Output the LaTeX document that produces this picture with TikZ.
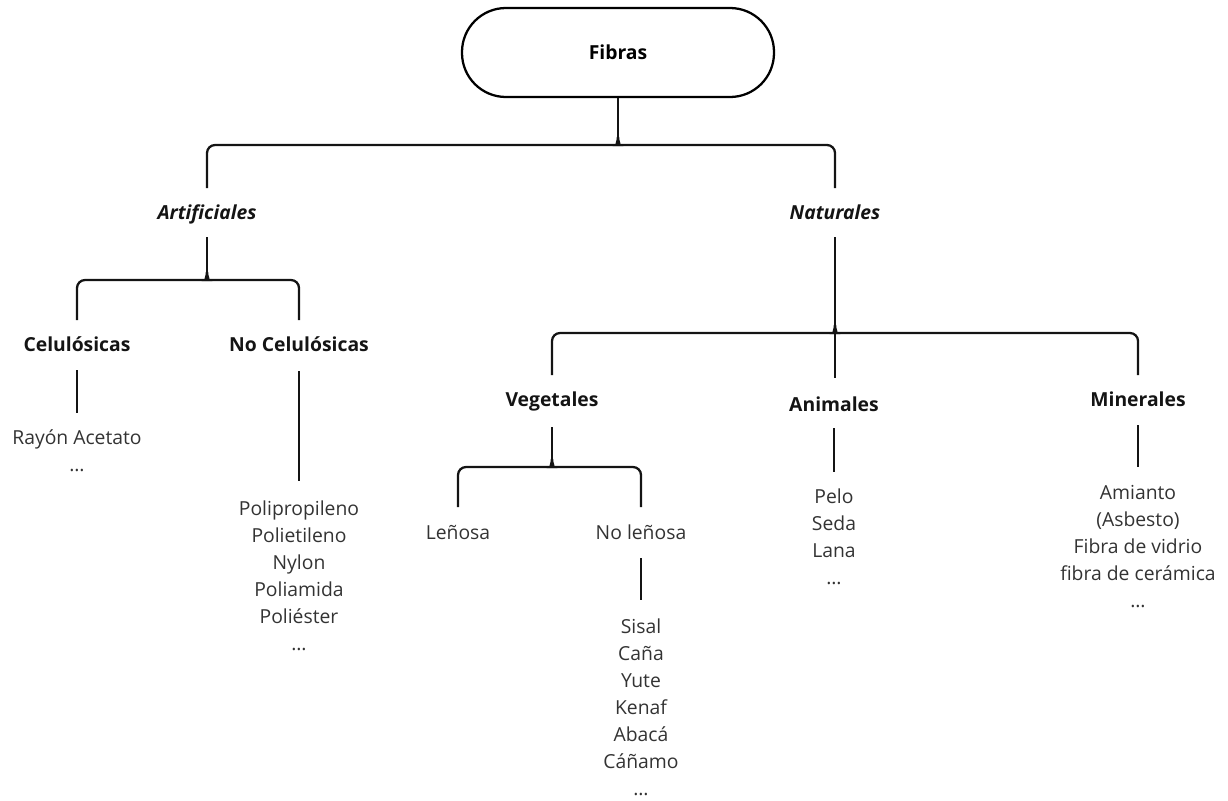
\documentclass[tikz,border=0pt]{standalone}
\usepackage{fontspec}
\setmainfont{Open Sans}
\newcommand\mybrace[5]{% center x, y, left x, right x, bottom y
  \draw[conn] (#3,#5) [rounded corners=6pt] |- ({#1-8},#2) [sharp corners]
     .. controls ({#1-3},#2) and (#1,{#2-3}) .. (#1,{#2-8});
  \draw[conn] (#4,#5) [rounded corners=6pt] |- ({#1+8},#2) [sharp corners]
     .. controls ({#1+3},#2) and (#1,{#2-3}) .. (#1,{#2-8});
}
\newcommand\mylist[4]{% name, x, first-line centre y, items
  \foreach \t [count=\k] in {#4}
    \node[item] (#1\k) at (#2,{#3+6+27*(\k-1)}) {\t};
}
\begin{document}
\begin{tikzpicture}[x=0.75pt,y=-0.75pt,
  conn/.style={line width=1.7pt, draw=black!92},
  head/.style={font=\fontsize{14.5}{17}\selectfont\bfseries, text=black!92, inner sep=0pt, anchor=base},
  headi/.style={head, font=\fontsize{14.5}{17}\selectfont\bfseries\itshape},
  item/.style={font=\fontsize{14.5}{17}\selectfont, text=black!80, inner sep=0pt, anchor=base},
]
\useasboundingbox (0,0) rectangle (1228,800);

% root
\node[draw, line width=1.7pt, rounded corners=33pt, minimum width=234pt,
      minimum height=66.75pt, font=\fontsize{14.5}{17}\selectfont\bfseries] (fib) at (618,52.5) {Fibras};

% level 1
\node[headi] (art) at (207,219) {Artificiales};
\node[headi] (nat) at (835,219) {Naturales};
\coordinate (b0) at (618,137);
\draw[conn] (fib.south) -- (b0);
\mybrace{618}{145}{207}{835}{188}

% artificiales
\coordinate (art1) at (207,237);
\coordinate (b1) at (207,272);
\draw[conn] (art1) -- (b1);
\mybrace{207}{280}{77}{299}{320}
\node[head] (cel) at (77,351) {Celulósicas};
\node[head] (ncel) at (299,351) {No Celulósicas};

\coordinate (cel1) at (77,370);
\coordinate (cel2) at (77,413);
\draw[conn] (cel1) -- (cel2);
\mylist{ray}{77}{438}{Rayón Acetato,…}

\coordinate (ncel1) at (299,371);
\coordinate (ncel2) at (299,481);
\draw[conn] (ncel1) -- (ncel2);
\mylist{pol}{299}{509}{Polipropileno,Polietileno,Nylon,Poliamida,Poliéster,…}

% naturales
\coordinate (nat1) at (835,237);
\coordinate (b2) at (835,325);
\coordinate (nat2) at (835,378);
\draw[conn] (nat1) -- (b2);
\draw[conn] (b2) -- (nat2);
\mybrace{835}{333}{552}{1138}{375}
\node[head] (veg) at (552,406) {Vegetales};
\node[head] (ani) at (834,411) {Animales};
\node[head] (min) at (1138,406) {Minerales};

% vegetales
\coordinate (veg1) at (552,427);
\coordinate (b3) at (552,459);
\draw[conn] (veg1) -- (b3);
\mybrace{552}{467}{458}{641}{507}
\node[item] (len) at (458,539) {Leñosa};
\node[item] (nlen) at (641,539) {No leñosa};
\coordinate (nlen1) at (641,558);
\coordinate (nlen2) at (641,600);
\draw[conn] (nlen1) -- (nlen2);
\mylist{nl}{641}{627}{Sisal,Caña,Yute,Kenaf,Abacá,Cáñamo,…}

% animales
\coordinate (ani1) at (834,428);
\coordinate (ani2) at (834,472);
\draw[conn] (ani1) -- (ani2);
\mylist{an}{834}{497}{Pelo,Seda,Lana,…}

% minerales
\coordinate (min1) at (1138,425);
\coordinate (min2) at (1138,467);
\draw[conn] (min1) -- (min2);
\mylist{mi}{1138}{493}{Amianto,{(Asbesto)},Fibra de vidrio,fibra de cerámica,…}
\end{tikzpicture}
\end{document}
